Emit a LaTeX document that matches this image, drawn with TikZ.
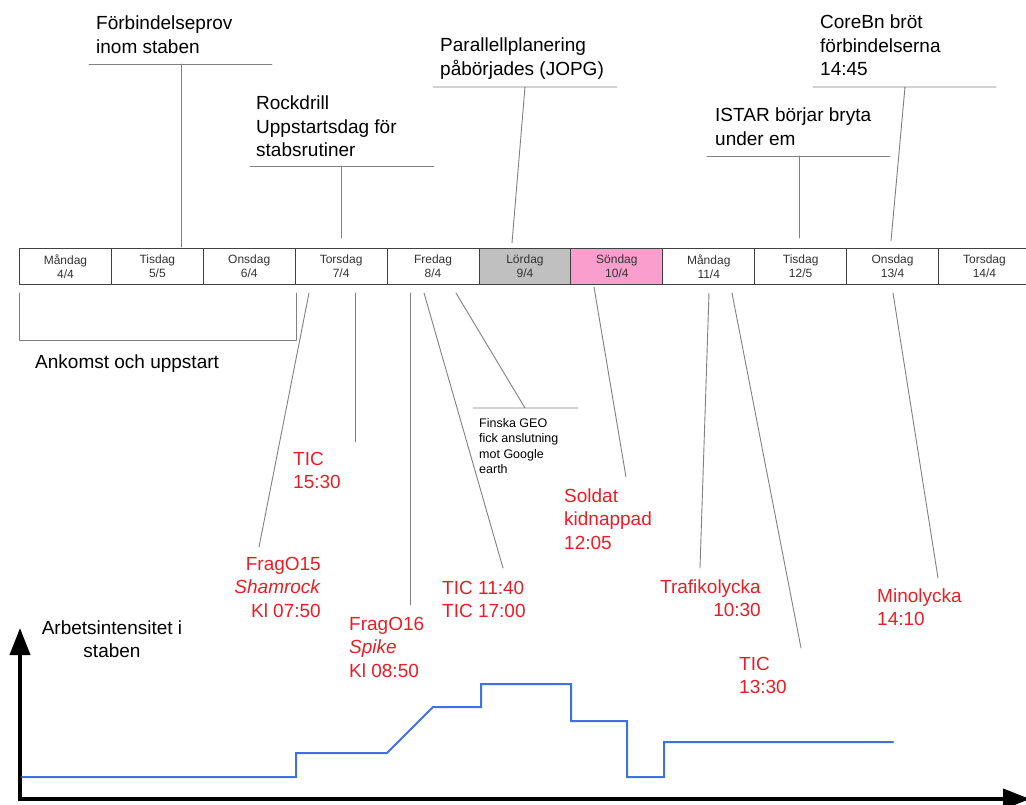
\documentclass[tikz,border=0pt]{standalone}
\usepackage{fontspec}
\setmainfont{Liberation Sans}
\usepackage{tikz}
\usetikzlibrary{arrows.meta}

\definecolor{EventRed}{RGB}{232,30,38}
\definecolor{WorkBlue}{RGB}{66,112,226}
\definecolor{SatGray}{RGB}{192,192,192}
\definecolor{SunPink}{RGB}{250,158,206}
\definecolor{LeadGray}{RGB}{128,128,128}

\begin{document}
\begin{tikzpicture}[
    x=1pt, y=-1pt,
    >=Latex,
    line cap=round,
    line join=round,
    daybox/.style={draw=black!75, line width=1pt, anchor=north west, minimum width=\daywidth, minimum height=36pt, inner sep=0pt, align=center, text=black!80, font=\fontsize{12}{14}\selectfont},
    note/.style={inner sep=0pt, align=left, font=\fontsize{19}{23.5}\selectfont},
    event/.style={note, text=EventRed},
    smallnote/.style={inner sep=0pt, align=left, font=\fontsize{12.5}{15.5}\selectfont},
    lead/.style={draw=LeadGray, line width=0.9pt},
    axis/.style={line width=4pt, line cap=butt, -{Triangle[length=27pt,width=20pt]}}
]

\useasboundingbox (0,0) rectangle (1026,805);

\def\daywidth{91.9pt}

\foreach \day/\date/\shade [count=\i from 0] in {Måndag/{4/4}/white, Tisdag/{5/5}/white, Onsdag/{6/4}/white, Torsdag/{7/4}/white, Fredag/{8/4}/white, Lördag/{9/4}/SatGray, Söndag/{10/4}/SunPink, Måndag/{11/4}/white, Tisdag/{12/5}/white, Onsdag/{13/4}/white, Torsdag/{14/4}/white}
    \node[daybox, fill=\shade] (day\i) at ({19+\i*91.9}, 248) {\day\\\date};

\node[note, anchor=base west] (forbprov) at (96,53.5) {Förbindelseprov\\inom staben};
\coordinate (forbL) at (89,64);
\coordinate (forbR) at (272,64);
\coordinate (forbT) at (181,64);
\coordinate (forbB) at (181,247);
\draw[lead] (forbL) -- (forbR) (forbT) -- (forbB);

\node[note, anchor=base west] (rockdrill) at (256,157) {Rockdrill\\Uppstartsdag för\\stabsrutiner};
\coordinate (rockL) at (250,166);
\coordinate (rockR) at (434,166);
\coordinate (rockT) at (341,166);
\coordinate (rockB) at (341,238);
\draw[lead] (rockL) -- (rockR) (rockT) -- (rockB);

\node[note, anchor=base west] (parplan) at (440,75.5) {Parallellplanering\\påbörjades (JOPG)};
\coordinate (parL) at (433,87);
\coordinate (parR) at (617,87);
\coordinate (parT) at (525,87);
\coordinate (parB) at (512,243);
\draw[lead] (parL) -- (parR) (parT) -- (parB);

\node[note, anchor=base west] (corebn) at (820,76) {CoreBn bröt\\förbindelserna\\14:45};
\coordinate (coreL) at (813,87);
\coordinate (coreR) at (996,87);
\coordinate (coreT) at (905,87);
\coordinate (coreB) at (891,241);
\draw[lead] (coreL) -- (coreR) (coreT) -- (coreB);

\node[note, anchor=base west] (istar) at (715,145.5) {ISTAR börjar bryta\\under em};
\coordinate (istarL) at (707,156);
\coordinate (istarR) at (890,156);
\coordinate (istarT) at (799,156);
\coordinate (istarB) at (799,238);
\draw[lead] (istarL) -- (istarR) (istarT) -- (istarB);

\coordinate (arrA) at (19,293);
\coordinate (arrB) at (19,340);
\coordinate (arrC) at (296,340);
\coordinate (arrD) at (296,293);
\draw[lead] (arrA) -- (arrB) -- (arrC) -- (arrD);
\node[note, anchor=base west] (ankomst) at (35,368) {Ankomst och uppstart};

\node[event, anchor=base east, align=right] (frago15) at (321,617) {FragO15\\\textit{Shamrock}\\Kl 07:50};
\coordinate (f15T) at (309,293);
\coordinate (f15B) at (259,547);
\draw[lead] (f15T) -- (f15B);

\node[event, anchor=base west] (tic1530) at (293,488.5) {TIC\\15:30};
\coordinate (t1530T) at (355,293);
\coordinate (t1530B) at (355,442);
\draw[lead] (t1530T) -- (t1530B);

\node[event, anchor=base west] (frago16) at (349,677) {FragO16\\\textit{Spike}\\Kl 08:50};
\coordinate (f16T) at (410,293);
\coordinate (f16B) at (410,605);
\draw[lead] (f16T) -- (f16B);

\node[event, anchor=base west] (tic1140) at (442,617.5) {TIC 11:40\\TIC 17:00};
\coordinate (t1140T) at (424,293);
\coordinate (t1140B) at (503,568);
\draw[lead] (t1140T) -- (t1140B);

\node[smallnote, anchor=base west] (finska) at (479,473.5) {Finska GEO\\fick anslutning\\mot Google\\earth};
\coordinate (finT) at (456,293);
\coordinate (finB) at (525,408);
\coordinate (finL) at (473,408);
\coordinate (finR) at (578,408);
\draw[lead] (finT) -- (finB) (finL) -- (finR);

\node[event, anchor=base west] (soldat) at (564,549) {Soldat\\kidnappad\\12:05};
\coordinate (solT) at (594,287);
\coordinate (solB) at (626,477);
\draw[lead] (solT) -- (solB);

\node[event, anchor=base east, align=right] (trafik) at (761,616.5) {Trafikolycka\\10:30};
\coordinate (trafT) at (709,293);
\coordinate (trafB) at (700,568);
\draw[lead] (trafT) -- (trafB);

\node[event, anchor=base west] (tic1330) at (739,693.5) {TIC\\13:30};
\coordinate (t1330T) at (732,293);
\coordinate (t1330B) at (801,648);
\draw[lead] (t1330T) -- (t1330B);

\node[event, anchor=base west] (mino) at (877,625.5) {Minolycka\\14:10};
\coordinate (minoT) at (893,293);
\coordinate (minoB) at (938,578);
\draw[lead] (minoT) -- (minoB);

\node[note, anchor=base, align=center] (arbets) at (112,657.5) {Arbetsintensitet i\\staben};
\coordinate (axorig) at (20,799);
\coordinate (axtop) at (20,628);
\coordinate (axend) at (1030,799);
\draw[axis] (20,801) -- (axtop);
\draw[axis] (18,799) -- (axend);

\draw[WorkBlue, line width=2pt, line join=miter] (22,777) -- (296,777) -- (296,753) -- (387,753) -- (433,707) -- (481,707) -- (481,684) -- (571,684) -- (571,721) -- (627,721) -- (627,777) -- (664,777) -- (664,742) -- (893,742);

\end{tikzpicture}
\end{document}
